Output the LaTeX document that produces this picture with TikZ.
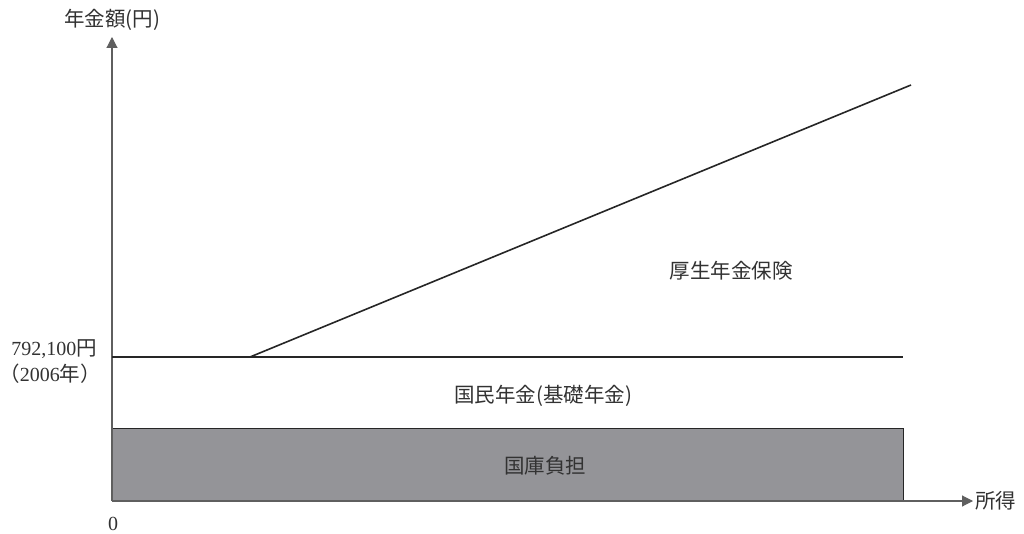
\documentclass[tikz,border=0pt]{standalone}
\usepackage{fontspec}
\setmainfont{Liberation Serif}
\newfontfamily\jp{Noto Sans CJK JP}
\usetikzlibrary{arrows.meta}
\definecolor{boxgray}{RGB}{148,148,152}
\definecolor{axisgray}{RGB}{95,95,95}
\definecolor{txt}{RGB}{50,50,50}
\begin{document}
\begin{tikzpicture}[x=1pt,y=-1pt,
  axis/.style={draw=axisgray,line width=1.1pt,-{Triangle[length=11pt,width=11pt]}},
  dataline/.style={draw=black!85,line width=1.6pt},
  lbl/.style={font=\jp\fontsize{20.5}{24}\selectfont,text=txt,inner sep=0pt},
  num/.style={font=\fontsize{20}{24}\selectfont,text=txt,inner sep=0pt}]
\useasboundingbox (0,0) rectangle (1024,534);
\coordinate (O) at (112,501);
\coordinate (Ytop) at (112,37);
\coordinate (Xend) at (973,501);
\coordinate (Lb) at (112,357);
\coordinate (Le) at (903,357);
\coordinate (Ds) at (250,357);
\coordinate (De) at (911,85);
\node[draw=black!85,line width=1.3pt,fill=boxgray,minimum width=791pt,minimum height=72pt,inner sep=0pt,anchor=south west] (box) at (O) {};
\draw[axis] (O) -- (Ytop);
\draw[axis] (O) -- (Xend);
\draw[dataline] (Lb) -- (Le);
\draw[dataline] (Ds) -- (De);
\node[lbl] (ylab) at (112,20) {年金額(円)};
\node[lbl,anchor=west] (xlab) at (975,501) {所得};
\node[num] (zero) at (113,524) {0};
\node[lbl,anchor=east] (val) at (97,349) {{\fontsize{20}{24}\selectfont\rmfamily 792,100}円};
\node[lbl,anchor=east] (yr) at (101,374) {（{\fontsize{20}{24}\selectfont\rmfamily 2006}年）};
\node[lbl] (kosei) at (731,271) {厚生年金保険};
\node[lbl] (kokumin) at (543,396) {国民年金(基礎年金)};
\node[lbl] (kokko) at (545,466) {国庫負担};
\end{tikzpicture}
\end{document}
